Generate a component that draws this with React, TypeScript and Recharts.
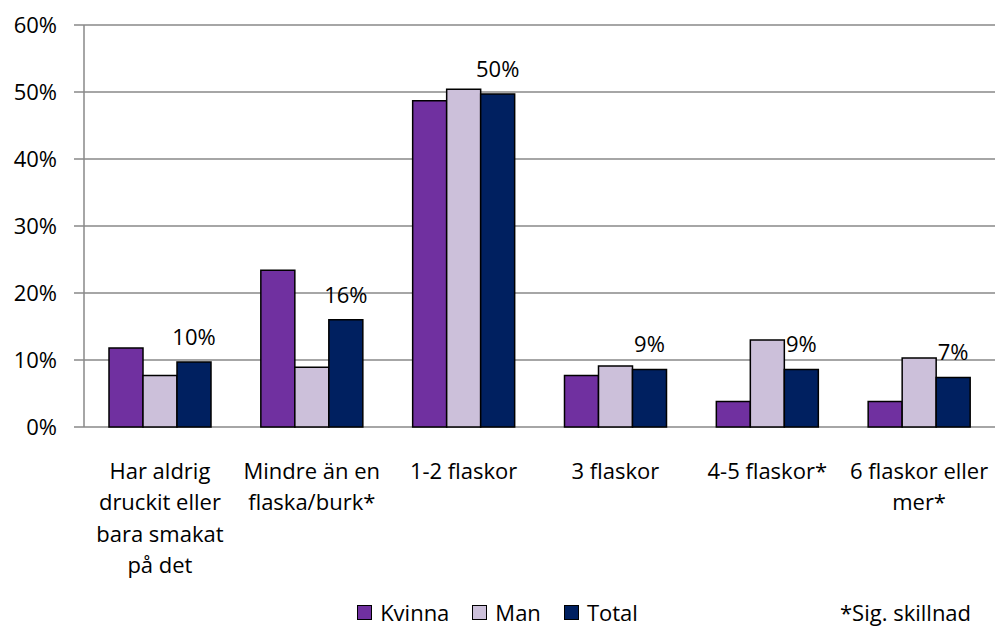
import React from 'react';
import { BarChart, Bar, XAxis, YAxis, CartesianGrid, LabelList, Legend } from 'recharts';

const categories = [
  'Har aldrig\ndruckit eller\nbara smakat\npå det',
  'Mindre än en\nflaska/burk*',
  '1-2 flaskor',
  '3 flaskor',
  '4-5 flaskor*',
  '6 flaskor eller\nmer*',
];
const kvinna = [11.8, 23.4, 48.7, 7.7, 3.8, 3.8];
const man = [7.7, 8.9, 50.4, 9.1, 13.0, 10.3];
const total = [9.7, 16.0, 49.7, 8.6, 8.6, 7.4];
const yTicks = [0, 10, 20, 30, 40, 50, 60];
const edgeTicks = [0, 1, 2, 3, 4, 5, 6];
const seriesNames = ['Kvinna', 'Man', 'Total'];
const seriesKeys = ['kvinna', 'man', 'total'];
const seriesColors = ['#7030A0', '#CCC0DA', '#002060'];
const noteText = '*Sig. skillnad';

const data = categories.map((name, i) => ({ name, kvinna: kvinna[i], man: man[i], total: total[i] }));

const FONT = "'Open Sans', sans-serif";
const GRID = '#888888';

const CatTick = (props: any) => {
  const { x, y, payload } = props;
  const lines = String(payload.value).split('\n');
  return (
    <text x={x} y={y} textAnchor="middle" fontFamily={FONT} fontSize={22} fill="#000">
      {lines.map((l, i) => (
        <tspan key={i} x={x} dy={i === 0 ? 52 : 31.3}>{l}</tspan>
      ))}
    </text>
  );
};

const LegendContent = () => (
  <div style={{ position: 'relative', width: 995, height: 24, fontFamily: FONT, fontSize: 22, lineHeight: '24px', color: '#000' }}>
    <div style={{ display: 'flex', justifyContent: 'center', alignItems: 'center', height: 24 }}>
      {seriesNames.map((n, i) => (
        <div key={n} style={{ display: 'flex', alignItems: 'center', marginRight: i < seriesNames.length - 1 ? 23 : 0 }}>
          <span style={{ display: 'inline-block', width: 13, height: 13, background: seriesColors[i], border: '1.5px solid #000', marginRight: 8 }} />
          <span>{n}</span>
        </div>
      ))}
    </div>
    <div style={{ position: 'absolute', left: 840, top: 0, height: 24, lineHeight: '24px' }}>{noteText}</div>
  </div>
);

export default function App() {
  return (
    <div style={{ position: 'absolute', left: 0, top: 0, width: 995, height: 626, background: '#fff' }}>
      <BarChart
        width={995}
        height={626}
        data={data}
        margin={{ top: 25, right: 0, left: 0, bottom: 0 }}
        barCategoryGap={25}
        barGap={0}
      >
        <XAxis
          xAxisId="edge"
          type="number"
          domain={[0, 6]}
          ticks={edgeTicks}
          tick={false}
          tickSize={8}
          height={0}
          allowDataOverflow
          interval={0}
          axisLine={{ stroke: GRID, strokeWidth: 1.5 }}
          tickLine={{ stroke: GRID, strokeWidth: 1.5 }}
        />
        <XAxis
          xAxisId="cat"
          dataKey="name"
          axisLine={false}
          tickLine={false}
          tickSize={0}
          tickMargin={0}
          height={199}
          interval={0}
          tick={<CatTick />}
        />
        <YAxis
          domain={[0, 60]}
          ticks={yTicks}
          interval={0}
          width={84}
          tickFormatter={(v: number) => `${v}%`}
          axisLine={{ stroke: GRID, strokeWidth: 1.5 }}
          tickLine={{ stroke: GRID, strokeWidth: 1.5 }}
          tickSize={10}
          tickMargin={17}
          tick={{ fill: '#000', fontSize: 22, fontFamily: FONT }}
        />
        <CartesianGrid xAxisId="edge" vertical={false} stroke={GRID} strokeWidth={1.5} />
        {seriesKeys.map((k, i) => (
          <Bar
            key={k}
            xAxisId="cat"
            dataKey={k}
            name={seriesNames[i]}
            fill={seriesColors[i]}
            stroke="#000"
            strokeWidth={1.5}
            isAnimationActive={false}
          >
            {k === 'total' && (
              <LabelList
                dataKey="total"
                position="top"
                offset={17}
                formatter={(v: any) => `${Math.round(Number(v))}%`}
                fontSize={22}
                fontFamily={FONT}
                fill="#000"
              />
            )}
          </Bar>
        ))}
        <Legend
          layout="horizontal"
          verticalAlign="middle"
          align="center"
          content={<LegendContent />}
          wrapperStyle={{ top: 600, left: 0, width: 995, height: 24 }}
        />
      </BarChart>
    </div>
  );
}
